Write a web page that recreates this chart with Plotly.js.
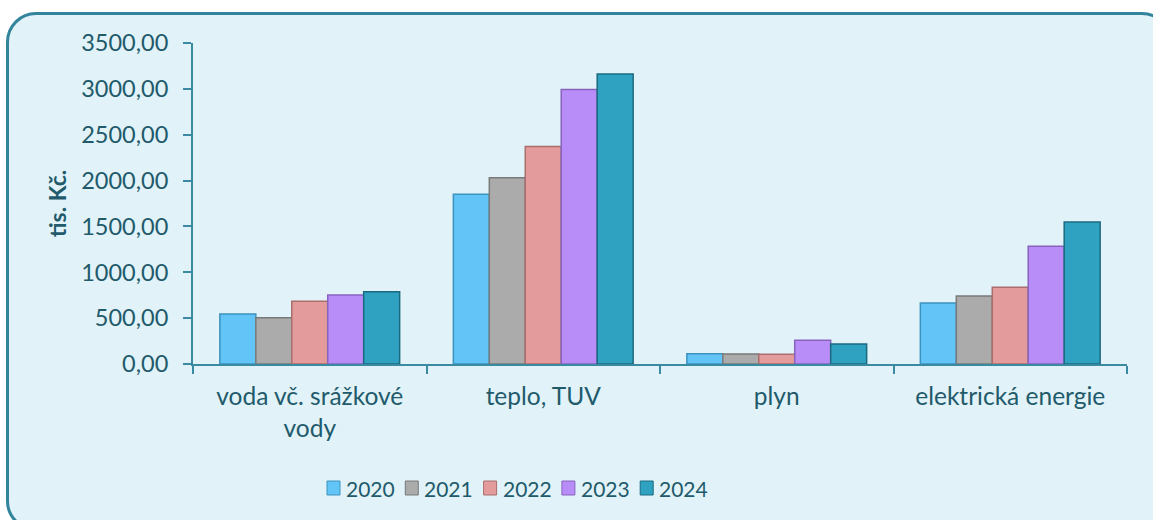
<!DOCTYPE html>
<html>
<head>
<meta charset="utf-8">
<script src="https://cdn.plot.ly/plotly-3.0.1.min.js"></script>
<style>
html,body{margin:0;padding:0;width:1153px;height:520px;overflow:hidden;background:#ffffff;}
#frame{position:absolute;left:6px;top:12px;width:1166px;height:519px;border:3px solid #31849B;border-radius:30px;background:#E1F2F8;box-sizing:border-box;}
#chart{position:absolute;left:0;top:0;width:1153px;height:520px;}
</style>
</head>
<body>
<div id="frame"></div>
<div id="chart"></div>
<script>
const categories = ["voda vč. srážkové<br>vody", "teplo, TUV", "plyn", "elektrická energie"];
const years = ["2020", "2021", "2022", "2023", "2024"];
const v2020 = [546, 1850, 112, 666];
const v2021 = [505, 2030, 110, 742];
const v2022 = [684, 2372, 105, 837];
const v2023 = [753, 2994, 259, 1285];
const v2024 = [789, 3163, 218, 1547];
const tickVals = [0, 500, 1000, 1500, 2000, 2500, 3000, 3500];
const tickText = ["0,00", "500,00", "1000,00", "1500,00", "2000,00", "2500,00", "3000,00", "3500,00"];

const series = [v2020, v2021, v2022, v2023, v2024];
const fills = ["#62C4F7", "#ABABAB", "#E39C9B", "#B98DF8", "#2FA1C1"];
const edges = ["#3C93BE", "#7A7A7A", "#A96E6D", "#8763BE", "#1C6A80"];

const traces = series.map((vals, i) => ({
  type: "bar",
  name: years[i],
  x: categories,
  y: vals,
  marker: {color: fills[i], line: {color: edges[i], width: 1.5}},
  showlegend: false,
  hoverinfo: "skip"
}));

const fontFam = "Lato, 'Open Sans', sans-serif";
const txtCol = "#215A6B";

// plot area in pixels (for placing the hand-built legend in paper coords)
const M = {l: 193, r: 26, t: 43, b: 156};
const PW = 1153 - M.l - M.r, PH = 520 - M.t - M.b;
const px = v => (v - M.l) / PW;
const py = v => (520 - M.b - v) / PH;

const shapes = [];
const annotations = [];
years.forEach((yr, i) => {
  const x0 = 327 + i * 78.3;
  shapes.push({
    type: "rect", xref: "paper", yref: "paper",
    x0: px(x0), x1: px(x0 + 13), y0: py(495), y1: py(481),
    fillcolor: fills[i], line: {color: edges[i], width: 1}
  });
  annotations.push({
    xref: "paper", yref: "paper", x: px(x0 + 17), y: py(488),
    xanchor: "left", yanchor: "middle", showarrow: false,
    text: yr, font: {family: fontFam, size: 21, color: txtCol}
  });
});

const layout = {
  width: 1153, height: 520,
  paper_bgcolor: "rgba(0,0,0,0)",
  plot_bgcolor: "rgba(0,0,0,0)",
  margin: M,
  barmode: "group",
  bargap: 0.23,
  bargroupgap: 0,
  font: {family: fontFam, color: txtCol, size: 23},
  showlegend: false,
  shapes: shapes,
  annotations: annotations,
  xaxis: {
    type: "category",
    showline: true, linecolor: "#3A8AA2", linewidth: 2,
    ticks: "outside", tickson: "boundaries", ticklen: 8, tickwidth: 2, tickcolor: "#3A8AA2",
    tickfont: {family: fontFam, size: 24.5, color: txtCol},
    ticklabelstandoff: 10,
    showgrid: false, zeroline: false,
    fixedrange: true
  },
  yaxis: {
    range: [0, 3500],
    tickvals: tickVals, ticktext: tickText,
    showline: true, linecolor: "#3A8AA2", linewidth: 2,
    ticks: "outside", ticklen: 8, tickwidth: 2, tickcolor: "#3A8AA2",
    tickfont: {family: fontFam, size: 23.5, color: txtCol},
    ticklabelstandoff: 10,
    showgrid: false, zeroline: false,
    title: {text: "<b>tis. Kč.</b>", font: {family: fontFam, size: 23, color: txtCol}, standoff: 8},
    fixedrange: true
  }
};

Plotly.newPlot("chart", traces, layout, {displayModeBar: false, staticPlot: true});
</script>
</body>
</html>
